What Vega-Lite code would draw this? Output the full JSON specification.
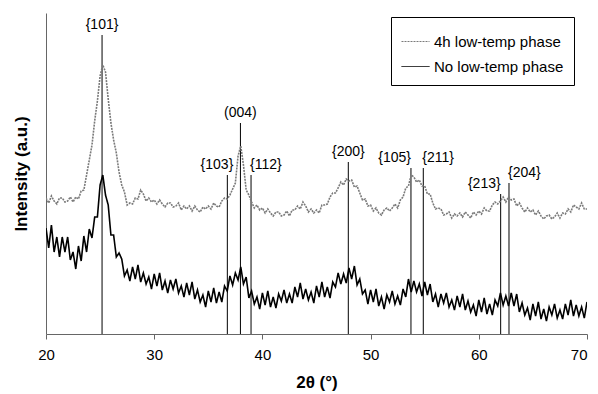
{
  "$schema": "https://vega.github.io/schema/vega-lite/v6.json",
  "width": 541,
  "height": 321,
  "autosize": {"type": "none"},
  "padding": {"left": 46, "top": 13, "right": 11, "bottom": 60},
  "background": "white",
  "config": {"view": {"stroke": null}, "font": "Liberation Sans"},
  "datasets": {
    "peaks": [
      {"hkl": "{101}", "x": 25.18, "top": 300},
      {"hkl": "(004)", "x": 37.97, "top": 212},
      {"hkl": "{103}", "x": 36.76, "top": 160},
      {"hkl": "{112}", "x": 38.95, "top": 160},
      {"hkl": "{200}", "x": 47.94, "top": 173},
      {"hkl": "{105}", "x": 53.73, "top": 167},
      {"hkl": "{211}", "x": 54.87, "top": 167},
      {"hkl": "{213}", "x": 62.02, "top": 141},
      {"hkl": "{204}", "x": 62.79, "top": 152}
    ],
    "xrd": [
      {"x":20,"a":137,"b":107},{"x":20.25,"a":132,"b":87},{"x":20.5,"a":139,"b":110},{"x":20.75,"a":134,"b":83},
      {"x":21,"a":131,"b":98},{"x":21.25,"a":137,"b":78},{"x":21.5,"a":137,"b":98},{"x":21.75,"a":133,"b":83},
      {"x":22,"a":134,"b":98},{"x":22.25,"a":138,"b":75},{"x":22.5,"a":133,"b":83},{"x":22.75,"a":138,"b":66},
      {"x":23,"a":136,"b":89},{"x":23.25,"a":144,"b":74},{"x":23.5,"a":145,"b":99},{"x":23.75,"a":160,"b":83},
      {"x":24,"a":175,"b":106},{"x":24.25,"a":190,"b":97},{"x":24.5,"a":214,"b":118},{"x":24.75,"a":234,"b":118},
      {"x":25,"a":259,"b":150},{"x":25.25,"a":270,"b":160},{"x":25.5,"a":263,"b":140},{"x":25.75,"a":236,"b":130},
      {"x":26,"a":212,"b":100},{"x":26.25,"a":195,"b":100},{"x":26.5,"a":182,"b":78},{"x":26.75,"a":163,"b":82},
      {"x":27,"a":150,"b":76},{"x":27.25,"a":143,"b":59},{"x":27.5,"a":130,"b":65},{"x":27.75,"a":132,"b":54},
      {"x":28,"a":131,"b":68},{"x":28.25,"a":137,"b":56},{"x":28.5,"a":136,"b":70},{"x":28.75,"a":145,"b":53},
      {"x":29,"a":141,"b":62},{"x":29.25,"a":134,"b":51},{"x":29.5,"a":137,"b":58},{"x":29.75,"a":133,"b":46},
      {"x":30,"a":135,"b":61},{"x":30.25,"a":131,"b":49},{"x":30.5,"a":135,"b":62},{"x":30.75,"a":131,"b":45},
      {"x":31,"a":128,"b":54},{"x":31.25,"a":132,"b":42},{"x":31.5,"a":132,"b":55},{"x":31.75,"a":128,"b":46},
      {"x":32,"a":129,"b":56},{"x":32.25,"a":132,"b":42},{"x":32.5,"a":125,"b":49},{"x":32.75,"a":129,"b":38},
      {"x":33,"a":126,"b":52},{"x":33.25,"a":129,"b":40},{"x":33.5,"a":124,"b":53},{"x":33.75,"a":129,"b":36},
      {"x":34,"a":125,"b":45},{"x":34.25,"a":123,"b":33},{"x":34.5,"a":128,"b":40},{"x":34.75,"a":126,"b":28},
      {"x":35,"a":129,"b":44},{"x":35.25,"a":126,"b":33},{"x":35.5,"a":132,"b":47},{"x":35.75,"a":129,"b":32},
      {"x":36,"a":128,"b":43},{"x":36.25,"a":134,"b":33},{"x":36.5,"a":137,"b":49},{"x":36.75,"a":136,"b":44},
      {"x":37,"a":140,"b":59},{"x":37.25,"a":146,"b":50},{"x":37.5,"a":152,"b":62},{"x":37.75,"a":179,"b":55},
      {"x":38,"a":189,"b":68},{"x":38.25,"a":170,"b":51},{"x":38.5,"a":145,"b":58},{"x":38.75,"a":140,"b":37},
      {"x":39,"a":133,"b":44},{"x":39.25,"a":127,"b":31},{"x":39.5,"a":130,"b":38},{"x":39.75,"a":125,"b":26},
      {"x":40,"a":127,"b":42},{"x":40.25,"a":122,"b":30},{"x":40.5,"a":126,"b":44},{"x":40.75,"a":122,"b":28},
      {"x":41,"a":119,"b":38},{"x":41.25,"a":123,"b":27},{"x":41.5,"a":123,"b":41},{"x":41.75,"a":119,"b":34},
      {"x":42,"a":120,"b":45},{"x":42.25,"a":124,"b":32},{"x":42.5,"a":119,"b":41},{"x":42.75,"a":125,"b":32},
      {"x":43,"a":125,"b":48},{"x":43.25,"a":129,"b":38},{"x":43.5,"a":126,"b":52},{"x":43.75,"a":133,"b":36},
      {"x":44,"a":129,"b":46},{"x":44.25,"a":123,"b":35},{"x":44.5,"a":126,"b":43},{"x":44.75,"a":122,"b":32},
      {"x":45,"a":125,"b":49},{"x":45.25,"a":122,"b":38},{"x":45.5,"a":130,"b":53},{"x":45.75,"a":130,"b":38},
      {"x":46,"a":131,"b":48},{"x":46.25,"a":138,"b":37},{"x":46.5,"a":142,"b":53},{"x":46.75,"a":142,"b":48},
      {"x":47,"a":147,"b":62},{"x":47.25,"a":153,"b":51},{"x":47.5,"a":150,"b":61},{"x":47.75,"a":156,"b":52},
      {"x":48,"a":154,"b":67},{"x":48.25,"a":155,"b":56},{"x":48.5,"a":148,"b":69},{"x":48.75,"a":149,"b":50},
      {"x":49,"a":142,"b":56},{"x":49.25,"a":135,"b":41},{"x":49.5,"a":136,"b":45},{"x":49.75,"a":129,"b":31},
      {"x":50,"a":130,"b":45},{"x":50.25,"a":124,"b":33},{"x":50.5,"a":127,"b":46},{"x":50.75,"a":122,"b":29},
      {"x":51,"a":120,"b":38},{"x":51.25,"a":125,"b":26},{"x":51.5,"a":127,"b":40},{"x":51.75,"a":124,"b":33},
      {"x":52,"a":127,"b":44},{"x":52.25,"a":131,"b":31},{"x":52.5,"a":127,"b":39},{"x":52.75,"a":135,"b":30},
      {"x":53,"a":138,"b":46},{"x":53.25,"a":147,"b":38},{"x":53.5,"a":149,"b":56},{"x":53.75,"a":160,"b":43},
      {"x":54,"a":158,"b":54},{"x":54.25,"a":153,"b":43},{"x":54.5,"a":155,"b":51},{"x":54.75,"a":149,"b":39},
      {"x":55,"a":149,"b":53},{"x":55.25,"a":141,"b":40},{"x":55.5,"a":141,"b":51},{"x":55.75,"a":132,"b":33},
      {"x":56,"a":126,"b":41},{"x":56.25,"a":127,"b":28},{"x":56.5,"a":126,"b":41},{"x":56.75,"a":120,"b":32},
      {"x":57,"a":121,"b":42},{"x":57.25,"a":123,"b":28},{"x":57.5,"a":117,"b":35},{"x":57.75,"a":121,"b":25},
      {"x":58,"a":119,"b":39},{"x":58.25,"a":122,"b":28},{"x":58.5,"a":118,"b":41},{"x":58.75,"a":123,"b":25},
      {"x":59,"a":120,"b":34},{"x":59.25,"a":117,"b":23},{"x":59.5,"a":123,"b":30},{"x":59.75,"a":120,"b":19},
      {"x":60,"a":124,"b":35},{"x":60.25,"a":121,"b":23},{"x":60.5,"a":127,"b":37},{"x":60.75,"a":124,"b":21},
      {"x":61,"a":124,"b":31},{"x":61.25,"a":130,"b":20},{"x":61.5,"a":133,"b":35},{"x":61.75,"a":131,"b":29},
      {"x":62,"a":134,"b":42},{"x":62.25,"a":138,"b":30},{"x":62.5,"a":133,"b":39},{"x":62.75,"a":138,"b":29},
      {"x":63,"a":135,"b":42},{"x":63.25,"a":136,"b":29},{"x":63.5,"a":129,"b":41},{"x":63.75,"a":132,"b":23},
      {"x":64,"a":127,"b":32},{"x":64.25,"a":123,"b":20},{"x":64.5,"a":127,"b":27},{"x":64.75,"a":123,"b":15},
      {"x":65,"a":125,"b":31},{"x":65.25,"a":120,"b":19},{"x":65.5,"a":124,"b":33},{"x":65.75,"a":119,"b":16},
      {"x":66,"a":116,"b":26},{"x":66.25,"a":119,"b":14},{"x":66.5,"a":120,"b":28},{"x":66.75,"a":116,"b":20},
      {"x":67,"a":118,"b":31},{"x":67.25,"a":122,"b":17},{"x":67.5,"a":117,"b":25},{"x":67.75,"a":122,"b":16},
      {"x":68,"a":121,"b":31},{"x":68.25,"a":126,"b":20},{"x":68.5,"a":123,"b":35},{"x":68.75,"a":130,"b":19},
      {"x":69,"a":128,"b":30},{"x":69.25,"a":126,"b":19},{"x":69.5,"a":132,"b":28},{"x":69.75,"a":126,"b":17},
      {"x":70,"a":126,"b":33}
    ]
  },
  "layer": [
    {
      "data": {"name": "peaks"},
      "mark": {"type": "rule", "color": "#000000", "strokeWidth": 1},
      "encoding": {
        "x": {
          "field": "x", "type": "quantitative",
          "scale": {"domain": [20, 70], "nice": false},
          "axis": {
            "title": "2θ (°)", "titleFontSize": 17, "titleFontWeight": "bold", "titleColor": "#000000", "titlePadding": 12,
            "values": [20, 30, 40, 50, 60, 70], "tickSize": 5, "tickColor": "#666666", "domainColor": "#666666",
            "labelFontSize": 15, "labelColor": "#000000", "labelPadding": 8, "grid": false, "labelFlush": false,
            "labelAlign": {"condition": {"test": "datum.value == 70", "value": "right"}, "value": "center"}
          }
        },
        "y": {
          "field": "top", "type": "quantitative",
          "scale": {"domain": [1, 322], "nice": false, "zero": false},
          "axis": {
            "title": "Intensity (a.u.)", "titleFontSize": 17, "titleFontWeight": "bold", "titleColor": "#000000",
            "titlePadding": 16, "labels": false, "ticks": false, "grid": false, "domainColor": "#666666"
          }
        },
        "y2": {"datum": 1}
      }
    },
    {
      "data": {"name": "xrd"},
      "transform": [{"fold": ["a", "b"], "as": ["series", "I"]}],
      "mark": {"type": "line", "strokeWidth": 1.6, "clip": true},
      "encoding": {
        "x": {"field": "x", "type": "quantitative"},
        "y": {"field": "I", "type": "quantitative"},
        "color": {
          "field": "series", "type": "nominal",
          "scale": {"domain": ["a", "b"], "range": ["#7a7a7a", "#000000"]},
          "legend": {
            "title": null, "orient": "none", "legendX": 345, "legendY": 4, "direction": "vertical",
            "strokeColor": "#000000", "fillColor": "#ffffff", "padding": 10,
            "symbolType": "stroke", "symbolSize": 784, "symbolStrokeWidth": 1,
            "labelFontSize": 15, "labelColor": "#000000", "labelOffset": 4, "rowPadding": 2,
            "labelExpr": "datum.label == 'a' ? '4h low-temp phase' : 'No low-temp phase'"
          }
        },
        "strokeDash": {
          "field": "series", "type": "nominal",
          "scale": {"domain": ["a", "b"], "range": [[2, 1], [1, 0]]}
        }
      }
    },
    {
      "data": {"name": "peaks"},
      "transform": [{"filter": {"field": "hkl", "oneOf": ["{101}", "(004)", "{200}"]}}],
      "mark": {"type": "text", "align": "center", "baseline": "bottom", "dy": -3, "fontSize": 14, "color": "#000000"},
      "encoding": {"x": {"field": "x", "type": "quantitative"}, "y": {"field": "top", "type": "quantitative"}, "text": {"field": "hkl"}}
    },
    {
      "data": {"name": "peaks"},
      "transform": [{"filter": {"field": "hkl", "oneOf": ["{105}", "{213}"]}}],
      "mark": {"type": "text", "align": "right", "baseline": "bottom", "dy": -3, "dx": 0, "fontSize": 14, "color": "#000000"},
      "encoding": {"x": {"field": "x", "type": "quantitative"}, "y": {"field": "top", "type": "quantitative"}, "text": {"field": "hkl"}}
    },
    {
      "data": {"name": "peaks"},
      "transform": [{"filter": {"field": "hkl", "oneOf": ["{103}"]}}],
      "mark": {"type": "text", "align": "right", "baseline": "bottom", "dy": -3, "dx": 6, "fontSize": 14, "color": "#000000"},
      "encoding": {"x": {"field": "x", "type": "quantitative"}, "y": {"field": "top", "type": "quantitative"}, "text": {"field": "hkl"}}
    },
    {
      "data": {"name": "peaks"},
      "transform": [{"filter": {"field": "hkl", "oneOf": ["{112}", "{211}", "{204}"]}}],
      "mark": {"type": "text", "align": "left", "baseline": "bottom", "dy": -3, "dx": -1, "fontSize": 14, "color": "#000000"},
      "encoding": {"x": {"field": "x", "type": "quantitative"}, "y": {"field": "top", "type": "quantitative"}, "text": {"field": "hkl"}}
    }
  ]
}
